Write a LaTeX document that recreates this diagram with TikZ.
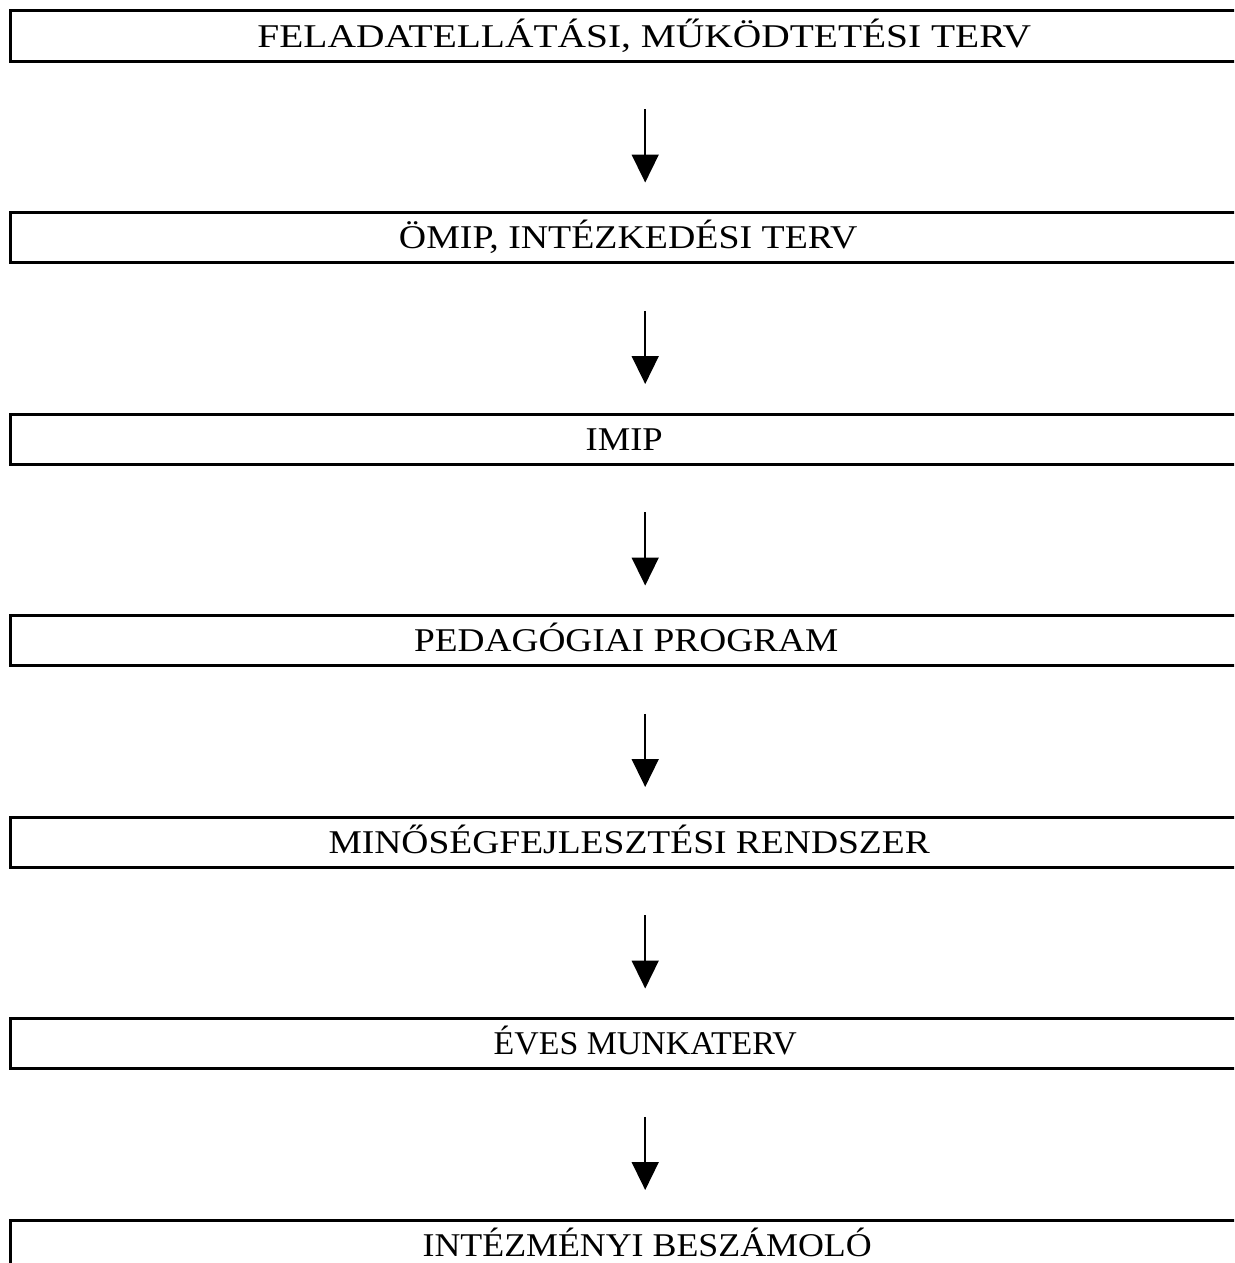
\documentclass[tikz,border=0pt]{standalone}
\usepackage{graphicx}
\usepackage{fontspec}
\setmainfont{Liberation Serif}
\usetikzlibrary{arrows.meta}
% #1 horizontal scale, #2 shift of the text centre (twice the offset), #3 text
\newcommand{\stagetext}[3]{\hspace*{#2}\scalebox{#1}[1]{#3}}
\begin{document}
\begin{tikzpicture}[x=1pt,y=-1pt,
  stagebox/.style={draw=none,rectangle,minimum width=1270pt,minimum height=50pt,inner sep=0pt,text height=22pt,text depth=0pt,font=\fontsize{33.2}{36}\selectfont,anchor=north west},
  flowarrow/.style={line width=1.6pt,-{Triangle[width=27pt,length=28pt]}}]
\useasboundingbox (0,0) rectangle (1234,1263);
\clip (0,0) rectangle (1234,1263);
\node[stagebox] (b1) at (10,11) {\stagetext{1.188}{-2pt}{FELADATELLÁTÁSI, MŰKÖDTETÉSI TERV}};
\node[stagebox] (b2) at (10,212.5) {\stagetext{1.14}{-34pt}{ÖMIP, INTÉZKEDÉSI TERV}};
\node[stagebox] (b3) at (10,414) {\stagetext{1.1}{-42pt}{IMIP}};
\node[stagebox] (b4) at (10,615.5) {\stagetext{1.125}{-38pt}{PEDAGÓGIAI PROGRAM}};
\node[stagebox] (b5) at (10,817) {\stagetext{1.13}{-32pt}{MINŐSÉGFEJLESZTÉSI RENDSZER}};
\node[stagebox] (b6) at (10,1018.5) {\stagetext{1.02}{0pt}{ÉVES MUNKATERV}};
\node[stagebox] (b7) at (10,1220) {\stagetext{1.08}{4pt}{INTÉZMÉNYI BESZÁMOLÓ}};
\foreach \b in {b1,b2,b3,b4,b5,b6,b7}{
  \draw[line width=3pt,line cap=rect] (\b.north east) -- (\b.north west) -- (\b.south west) -- (\b.south east);
}
\foreach \a/\b in {b1/b2,b2/b3,b3/b4,b4/b5,b5/b6,b6/b7}{
  \draw[flowarrow] ([yshift=-48pt]\a.south) -- ([yshift=30pt]\b.north);
}
\end{tikzpicture}
\end{document}
